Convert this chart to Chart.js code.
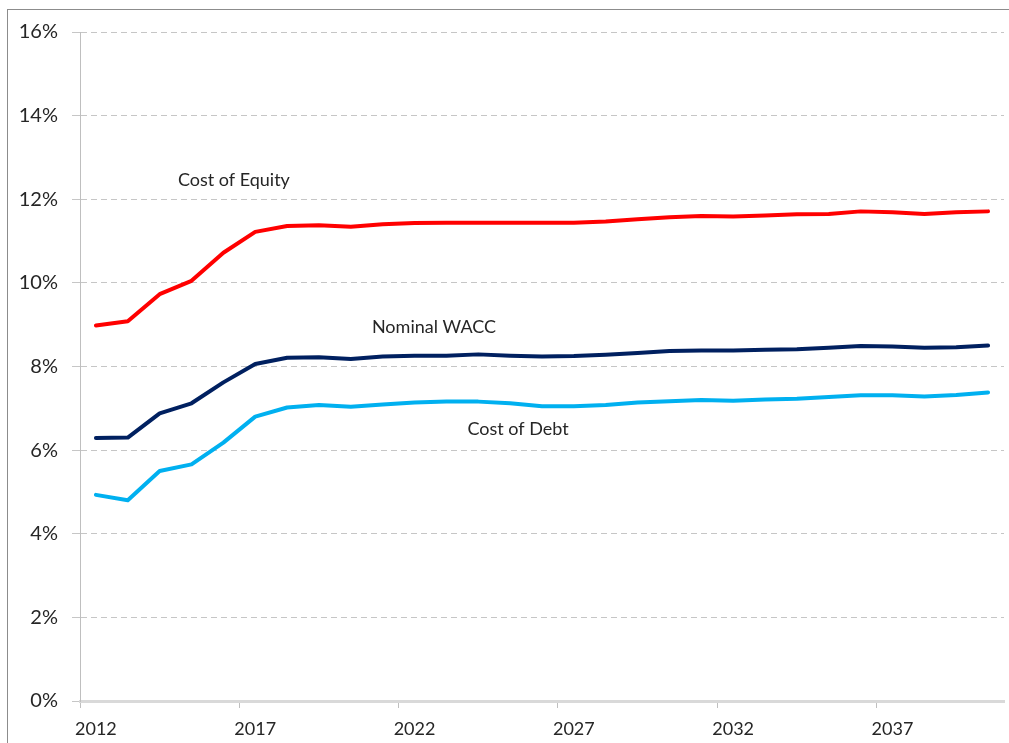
<!DOCTYPE html>
<html>
<head>
<meta charset="utf-8">
<script src="https://cdn.jsdelivr.net/npm/chart.js@4/dist/chart.umd.min.js"></script>
<style>
    body { margin: 0; background: #fff; overflow: hidden; }
    #frame { position: absolute; left: 7px; top: 9px; width: 1100px; height: 800px; border: 1px solid #8c8c8c; }
    #wrap { position: absolute; left: 0; top: 0; width: 1009px; height: 743px; }
</style>
</head>
<body>
<div id="frame"></div>
<div id="wrap"><canvas id="waccChart"></canvas></div>
<script>
var years = ['2012', '2013', '2014', '2015', '2016', '2017', '2018', '2019', '2020', '2021',
    '2022', '2023', '2024', '2025', '2026', '2027', '2028', '2029', '2030', '2031',
    '2032', '2033', '2034', '2035', '2036', '2037', '2038', '2039', '2040'];

var costOfEquity = [8.98, 9.08, 9.73, 10.05, 10.72, 11.22, 11.36, 11.38, 11.34, 11.40,
    11.43, 11.44, 11.44, 11.44, 11.44, 11.44, 11.47, 11.52, 11.57, 11.60,
    11.59, 11.61, 11.64, 11.65, 11.71, 11.69, 11.65, 11.69, 11.71];

var nominalWacc = [6.29, 6.30, 6.88, 7.12, 7.62, 8.06, 8.21, 8.22, 8.18, 8.24,
    8.26, 8.26, 8.29, 8.26, 8.24, 8.25, 8.28, 8.32, 8.37, 8.38,
    8.38, 8.40, 8.41, 8.45, 8.49, 8.48, 8.45, 8.46, 8.50];

var costOfDebt = [4.93, 4.80, 5.50, 5.66, 6.18, 6.80, 7.02, 7.08, 7.04, 7.09,
    7.14, 7.16, 7.16, 7.12, 7.05, 7.05, 7.08, 7.14, 7.17, 7.20,
    7.18, 7.21, 7.23, 7.27, 7.31, 7.31, 7.28, 7.32, 7.38];

var seriesNames = ['Cost of Equity', 'Nominal WACC', 'Cost of Debt'];

// label text drawn next to each line, anchored in data units (category index, percent)
var lineLabels = {
    id: 'lineLabels',
    afterDatasetsDraw: function (chart, args, opts) {
        var ctx = chart.ctx;
        ctx.save();
        ctx.font = opts.font;
        ctx.fillStyle = opts.color;
        ctx.textAlign = 'center';
        ctx.textBaseline = 'middle';
        opts.anchors.forEach(function (a, i) {
            var x = chart.scales.x.getPixelForValue(a[0]);
            var y = chart.scales.y.getPixelForValue(a[1]);
            ctx.fillText(seriesNames[i], x, y);
        });
        ctx.restore();
    }
};

var chartElement = document.getElementById('waccChart').getContext('2d');

var chartObject = new Chart(chartElement, {
    type: 'line',
    data: {
        labels: years,
        datasets: [{
            label: seriesNames[0],
            data: costOfEquity,
            borderColor: '#FF0000'
        }, {
            label: seriesNames[1],
            data: nominalWacc,
            borderColor: '#002060'
        }, {
            label: seriesNames[2],
            data: costOfDebt,
            borderColor: '#00B0F0'
        }]
    },
    options: {
        responsive: true,
        maintainAspectRatio: false,
        animation: false,
        layout: { padding: { top: 32, right: 5, left: 0, bottom: 0 } },
        elements: {
            line: { borderWidth: 4, tension: 0, borderJoinStyle: 'round', borderCapStyle: 'round', fill: false },
            point: { radius: 0 }
        },
        plugins: {
            legend: { display: false },
            tooltip: { enabled: false },
            lineLabels: {
                font: '18px Lato',
                color: '#262626',
                anchors: [[4.33, 12.46], [10.61, 8.94], [13.25, 6.51]]
            }
        },
        scales: {
            x: {
                type: 'category',
                offset: true,
                grid: {
                    offset: true,
                    drawOnChartArea: false,
                    tickLength: 7,
                    tickWidth: 1,
                    // tick mark only at the left edge of every fifth year
                    tickColor: function (c) {
                        return c.index % 5 === 0 && c.index < years.length ? '#BFBFBF' : 'rgba(0,0,0,0)';
                    }
                },
                border: { color: '#D9D9D9', width: 3 },
                ticks: {
                    autoSkip: false,
                    maxRotation: 0,
                    padding: 10,
                    color: '#262626',
                    font: { family: 'Lato', size: 18 },
                    callback: function (value, index) {
                        return index % 5 === 0 ? this.getLabelForValue(value) : '';
                    }
                },
                afterFit: function (scale) { scale.height = 42; }
            },
            y: {
                min: 0,
                max: 16,
                grid: {
                    color: '#C6C6C6',
                    lineWidth: 1,
                    tickLength: 8,
                    tickColor: '#C6C6C6'
                },
                border: { color: '#BFBFBF', width: 1, dash: [6, 4] },
                ticks: {
                    stepSize: 2,
                    padding: 14,
                    color: '#262626',
                    font: { family: 'Lato', size: 20 },
                    callback: function (v) { return v + '%'; }
                },
                afterFit: function (scale) { scale.width = 80; }
            }
        }
    },
    plugins: [lineLabels]
});
chartObject.update();
</script>
</body>
</html>
